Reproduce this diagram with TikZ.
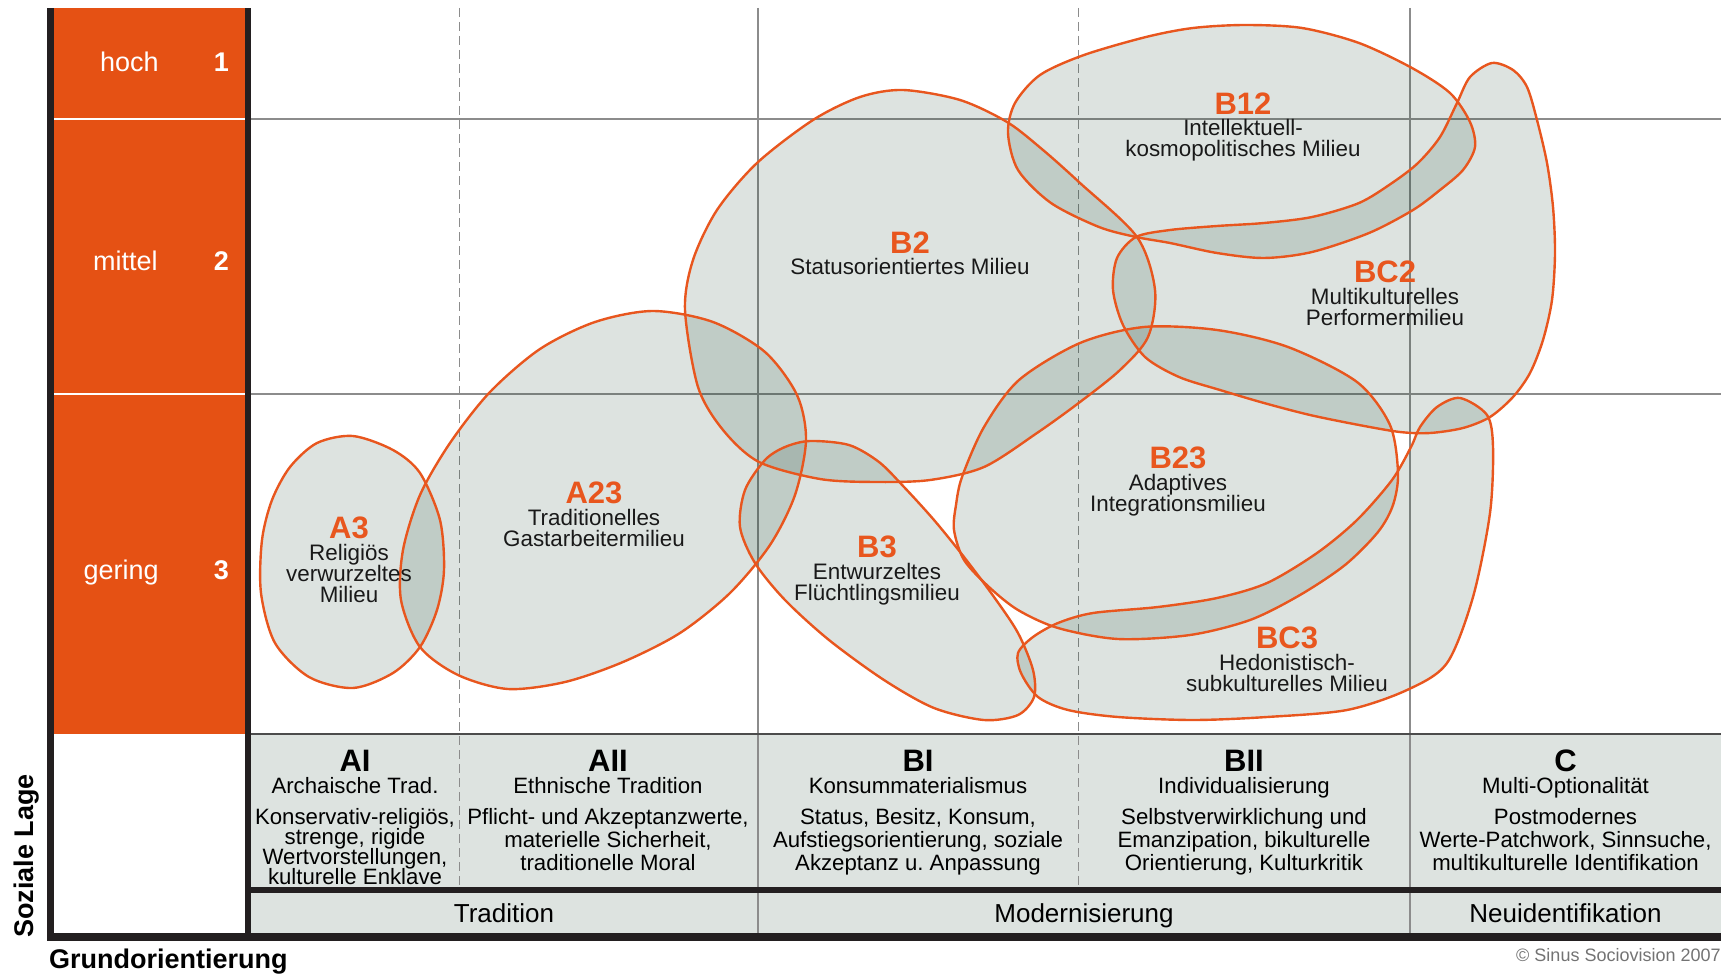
\documentclass[tikz,border=0pt]{standalone}
\usepackage{fontspec}
\setmainfont{Liberation Sans}
\usepackage{xcolor}
\usetikzlibrary{positioning}
\definecolor{sinusorange}{HTML}{E55114}
\definecolor{lineorange}{HTML}{E8561E}
\definecolor{milieutint}{RGB}{24,65,44}
\definecolor{cellgray}{RGB}{221,227,224}
\definecolor{gridgray}{HTML}{8C8C8C}
\definecolor{barblack}{HTML}{231F20}
\tikzset{
  BlobFill/.style={fill=milieutint, fill opacity=0.147},
  BlobLine/.style={draw=lineorange, line width=1.2pt},
  GridLine/.style={draw=gridgray, line width=0.8pt},
  GridDash/.style={GridLine, dash pattern=on 4.5pt off 2.5pt},
  Tight/.style={execute at begin node={\lineskiplimit=-5pt\relax}},
  Code/.style={inner sep=0pt, text=lineorange,
    font=\fontsize{15.5}{16}\selectfont\bfseries},
  Desc/.style={Tight, inner sep=0pt, align=center, text=black!90,
    font=\fontsize{11.2}{10.5}\selectfont},
  RowLabel/.style={inner sep=0pt, anchor=base east, text=white,
    font=\fontsize{13.5}{14}\selectfont},
  RowNum/.style={inner sep=0pt, anchor=base, text=white,
    font=\fontsize{13.5}{14}\selectfont\bfseries},
  ColCode/.style={inner sep=0pt, anchor=base,
    font=\fontsize{15.5}{16}\selectfont\bfseries},
  ColSub/.style={inner sep=0pt, anchor=base, font=\fontsize{11.1}{12}\selectfont},
  ColDesc/.style={Tight, inner sep=0pt, anchor=north, align=center,
    font=\fontsize{11.1}{11.5}\selectfont},
  Axis/.style={inner sep=0pt, font=\fontsize{13.5}{14}\selectfont\bfseries},
  Trend/.style={inner sep=0pt, anchor=base, font=\fontsize{13}{14}\selectfont}
}

\begin{document}
\begin{tikzpicture}[x=0.5pt,y=-0.5pt]
  \useasboundingbox (0,0) rectangle (1723,974);

  % social position column and table cells
  \fill[sinusorange] (54,8) rectangle (245,734);
  \draw[white, line width=0.6pt] (47,119) -- (251,119);
  \draw[white, line width=0.6pt] (47,394) -- (251,394);
  \fill[cellgray] (251,734) rectangle (1721,886.7);
  \fill[cellgray] (251,893.3) rectangle (1721,933.3);

  % grid
  \draw[GridLine] (251,119) -- (1721,119);
  \draw[GridLine] (251,394) -- (1721,394);
  \draw[GridLine] (757.7,8) -- (757.7,933);
  \draw[GridLine] (1410,8) -- (1410,933);
  \draw[GridDash] (459.3,8) -- (459.3,886.7);
  \draw[GridDash] (1078.5,8) -- (1078.5,886.7);
  \draw[black!70, line width=0.7pt] (251,734) -- (1721,734);

  % milieu outlines
  \path[save path=\blobAthree] plot[smooth cycle] coordinates {
    (353,436) (393,450) (420,473) (440,520) (444,570) (437,610) (420,647)
    (393,673) (353,688) (309,677) (275,643) (261,593) (262,540) (272,500)
    (290,467) (317,443)};
  \path[save path=\blobAtwothree] plot[smooth cycle] coordinates {
    (420,647) (401,600) (403,550) (420,495) (450,443) (490,392) (540,349)
    (595,322) (653,311) (713,322) (765,352) (797,395) (806,440) (795,495)
    (770,545) (730,593) (680,633) (623,662) (565,682) (508,689) (458,675)};
  \path[save path=\blobBtwo] plot[smooth cycle] coordinates {
    (685,310) (693,260) (717,210) (757,163) (813,120) (860,97) (903,90)
    (960,100) (1007,122) (1043,150) (1080,183) (1137,237) (1155,290)
    (1148,337) (1120,370) (1080,402) (1037,433) (984,467) (930,480)
    (876,482) (820,479) (759,462) (723,430) (698,387)};
  \path[save path=\blobBonetwo] plot[smooth cycle] coordinates {
    (1245,25) (1302,28) (1359,43) (1412,68) (1450,93) (1470,122)
    (1475,147) (1463,170) (1440,190) (1413,210) (1369,233) (1312,252)
    (1264,258) (1217,253) (1170,243) (1136,237) (1099,227) (1051,203)
    (1018,170) (1008,133) (1015,103) (1040,75) (1084,55) (1146,37)
    (1193,28)};
  \path[save path=\blobBCtwo] plot[smooth cycle] coordinates {
    (1492,63) (1513,70) (1527,87) (1537,120) (1547,163) (1553,207)
    (1555,253) (1552,300) (1543,340) (1530,373) (1513,397) (1490,417)
    (1463,428) (1430,433) (1400,432) (1359,425) (1310,415) (1264,403)
    (1220,390) (1179,377) (1145,357) (1123,325) (1113,290) (1117,258)
    (1136,237) (1170,230) (1217,226) (1264,223) (1312,217) (1359,203)
    (1392,183) (1418,163) (1440,137) (1457,103) (1470,77)};
  \path[save path=\blobBtwothree] plot[smooth cycle] coordinates {
    (962,477) (984,427) (1019,380) (1080,343) (1144,327) (1217,330)
    (1288,347) (1357,382) (1390,425) (1398,473) (1393,505) (1378,532)
    (1345,565) (1300,595) (1250,620) (1190,635) (1118,639) (1058,628)
    (1018,610) (989,587) (964,560) (954,530) (956,505)};
  \path[save path=\blobBCthree] plot[smooth cycle] coordinates {
    (1460,398) (1487,415) (1493,447) (1490,513) (1473,597) (1447,663)
    (1407,690) (1347,710) (1267,717) (1193,720) (1118,717) (1068,710)
    (1038,697) (1021,673) (1018,653) (1033,637) (1058,623) (1093,613)
    (1158,607) (1217,598) (1267,583) (1317,553) (1357,520) (1392,480)
    (1411,447) (1420,427) (1437,407)};
  \path[save path=\blobBthree] plot[smooth cycle] coordinates {
    (810,441) (849,445) (879,462) (904,487) (934,520) (964,557) (994,597)
    (1018,633) (1033,670) (1034,697) (1018,715) (984,720) (934,708)
    (884,680) (829,640) (785,600) (755,563) (740,527) (745,490) (765,460)
    (785,447)};

  % fills first, overlaps get darker
  \fill[BlobFill, use path=\blobAthree];
  \fill[BlobFill, use path=\blobAtwothree];
  \fill[BlobFill, use path=\blobBtwo];
  \fill[BlobFill, use path=\blobBonetwo];
  \fill[BlobFill, use path=\blobBCtwo];
  \fill[BlobFill, use path=\blobBtwothree];
  \fill[BlobFill, use path=\blobBCthree];
  \fill[BlobFill, use path=\blobBthree];

  \draw[BlobLine, use path=\blobAthree];
  \draw[BlobLine, use path=\blobAtwothree];
  \draw[BlobLine, use path=\blobBtwo];
  \draw[BlobLine, use path=\blobBonetwo];
  \draw[BlobLine, use path=\blobBCtwo];
  \draw[BlobLine, use path=\blobBtwothree];
  \draw[BlobLine, use path=\blobBCthree];
  \draw[BlobLine, use path=\blobBthree];

  % frame bars
  \fill[barblack] (47,8) rectangle (54,941);
  \fill[barblack] (245,8) rectangle (251,941);
  \fill[barblack] (251,886.7) rectangle (1721,893.3);
  \fill[barblack] (47,933.3) rectangle (1721,941);

  % social position labels
  \node[RowLabel] (hoch) at (159,72) {hoch};
  \node[RowNum] (eins) at (221.5,72) {1};
  \node[RowLabel] (mittel) at (158,270) {mittel};
  \node[RowNum] (zwei) at (221.5,270) {2};
  \node[RowLabel] (gering) at (159,579) {gering};
  \node[RowNum] (drei) at (221.5,579) {3};

  % milieus
  \node[Code] (a3) at (349,528) {A3};
  \node[Desc, below=2pt of a3] (a3txt) {Religiös\\verwurzeltes\\Milieu};
  \node[Code] (a23) at (594,493) {A23};
  \node[Desc, below=2pt of a23] (a23txt) {Traditionelles\\Gastarbeitermilieu};
  \node[Code] (b2) at (910,243) {B2};
  \node[Desc, below=2pt of b2] (b2txt) {Statusorientiertes Milieu};
  \node[Code] (b12) at (1243,104) {B12};
  \node[Desc, below=2pt of b12] (b12txt) {Intellektuell-\\kosmopolitisches Milieu};
  \node[Code] (bc2) at (1385,272) {BC2};
  \node[Desc, below=2pt of bc2] (bc2txt) {Multikulturelles\\Performermilieu};
  \node[Code] (b3) at (877,547) {B3};
  \node[Desc, below=2pt of b3] (b3txt) {Entwurzeltes\\Flüchtlingsmilieu};
  \node[Code] (b23) at (1178,458) {B23};
  \node[Desc, below=2pt of b23] (b23txt) {Adaptives\\Integrationsmilieu};
  \node[Code] (bc3) at (1287,638) {BC3};
  \node[Desc, below=2pt of bc3] (bc3txt) {Hedonistisch-\\subkulturelles Milieu};

  % basic orientation table
  \node[ColCode] (ai) at (355,771) {AI};
  \node[ColSub] (aisub) at (355,793) {Archaische Trad.};
  \node[ColDesc, font=\fontsize{11.1}{10}\selectfont]
    (aitxt) at (355,808) {Konservativ-religiös,\\strenge, rigide\\Wertvorstellungen,\\kulturelle Enklave};
  \node[ColCode] (aii) at (608,771) {AII};
  \node[ColSub] (aiisub) at (608,793) {Ethnische Tradition};
  \node[ColDesc] (aiitxt) at (608,808) {Pflicht- und Akzeptanzwerte,\\materielle Sicherheit,\\traditionelle Moral};
  \node[ColCode] (bi) at (918,771) {BI};
  \node[ColSub] (bisub) at (918,793) {Konsummaterialismus};
  \node[ColDesc] (bitxt) at (918,808) {Status, Besitz, Konsum,\\Aufstiegsorientierung, soziale\\Akzeptanz u.\ Anpassung};
  \node[ColCode] (bii) at (1244,771) {BII};
  \node[ColSub] (biisub) at (1244,793) {Individualisierung};
  \node[ColDesc] (biitxt) at (1244,808) {Selbstverwirklichung und\\Emanzipation, bikulturelle\\Orientierung, Kulturkritik};
  \node[ColCode] (c) at (1565.5,771) {C};
  \node[ColSub] (csub) at (1565.5,793) {Multi-Optionalität};
  \node[ColDesc] (ctxt) at (1565.5,808) {Postmodernes\\Werte-Patchwork, Sinnsuche,\\multikulturelle Identifikation};

  \node[Trend] (tradition) at (504,922) {Tradition};
  \node[Trend] (modern) at (1084,922) {Modernisierung};
  \node[Trend] (neuident) at (1565.5,922) {Neuidentifikation};

  % axes and source
  \node[Axis, rotate=90] (lage) at (27,856) {Soziale Lage};
  \node[Axis, anchor=base west] (grund) at (48.8,968) {Grundorientierung};
  \node[inner sep=0pt, anchor=east, text=black!55,
    font=\fontsize{9}{10}\selectfont] (source) at (1721,955) {© Sinus Sociovision 2007};
\end{tikzpicture}
\end{document}
